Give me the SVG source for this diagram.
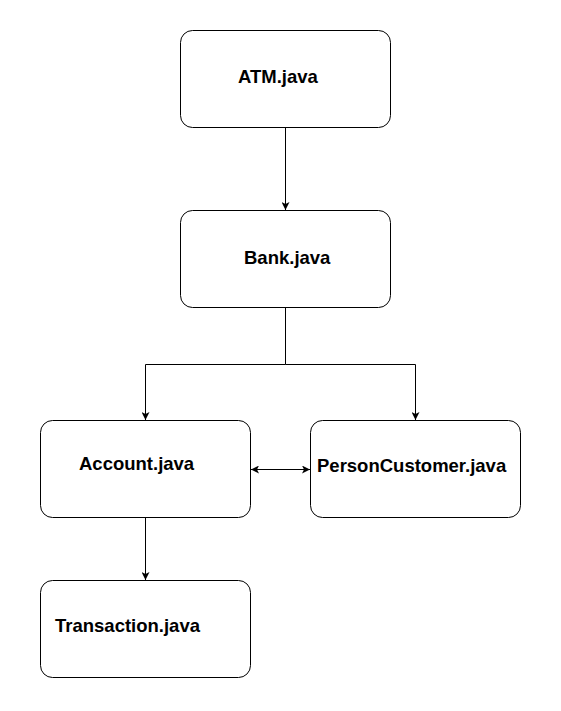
<svg xmlns="http://www.w3.org/2000/svg" width="561" height="711" viewBox="0 0 561 711">
<style>
.box{fill:#fff;stroke:#000;stroke-width:1}
.lbl{font-family:"Liberation Sans",Arial,sans-serif;font-weight:bold;font-size:18.5px;fill:#000}
.edge{fill:none;stroke:#000;stroke-width:1}
</style>
<defs>
<marker id="arr" viewBox="0 0 10 10" refX="10" refY="5" markerWidth="8" markerHeight="8" markerUnits="userSpaceOnUse" orient="auto-start-reverse">
<path d="M0,0 L10,5 L0,10 L2.5,5 Z" fill="#000"/>
</marker>
</defs>
<rect width="561" height="711" fill="#fff"/>
<g id="connectors">
<path class="edge" d="M285.5,127.5 V210" marker-end="url(#arr)"/>
<path class="edge" d="M285.5,307.5 V364.5 H145.5 V420" marker-end="url(#arr)"/>
<path class="edge" d="M285.5,364.5 H415.5 V420" marker-end="url(#arr)"/>
<path class="edge" d="M251,469.5 H310" marker-start="url(#arr)" marker-end="url(#arr)"/>
<path class="edge" d="M145.5,517.5 V580" marker-end="url(#arr)"/>
</g>
<g id="atm"><rect class="box" x="180.5" y="30.5" width="210" height="97" rx="12"/><text class="lbl" x="238" y="83">ATM.java</text></g>
<g id="bank"><rect class="box" x="180.5" y="210.5" width="210" height="97" rx="12"/><text class="lbl" x="244" y="264">Bank.java</text></g>
<g id="account"><rect class="box" x="40.5" y="420.5" width="210" height="97" rx="12"/><text class="lbl" x="79" y="470">Account.java</text></g>
<g id="person"><rect class="box" x="310.5" y="420.5" width="210" height="97" rx="12"/><text class="lbl" x="317" y="472">PersonCustomer.java</text></g>
<g id="transaction"><rect class="box" x="40.5" y="580.5" width="210" height="97" rx="12"/><text class="lbl" x="55" y="632">Transaction.java</text></g>
</svg>
